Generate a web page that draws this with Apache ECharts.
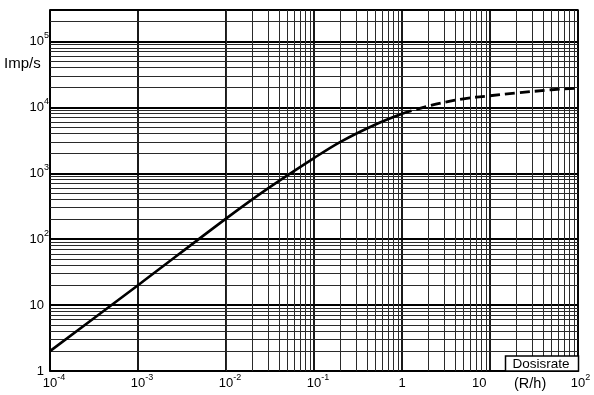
<!DOCTYPE html>
<html><head><meta charset="utf-8">
<script src="https://cdn.jsdelivr.net/npm/echarts@6/dist/echarts.min.js"></script>
<style>html,body{margin:0;padding:0;background:#fff}#c{width:594px;height:395px}</style>
</head><body><div id="c"></div>
<script>
// measured curve (solid part) and extrapolated (dashed part)
const solidX = [1e-4, 1e-3, 1e-2, 0.03, 0.1, 0.2, 0.5, 1];
const solidY = [2, 20, 205, 590, 1700, 3000, 5500, 8000];
const dashX = [1, 2, 5, 10, 20, 50, 100];
const dashY = [8000, 10500, 13500, 15000, 16500, 18500, 19600];
// tick labels
const xTickBase = ['10', '10', '10', '10', '1', '10', '10'];
const xTickExp = ['-4', '-3', '-2', '-1', '', '', '2'];
const yTickBase = ['1', '10', '10', '10', '10', '10'];
const yTickExp = ['', '', '2', '3', '4', '5'];
// grid
const xMin = 1e-4, xMax = 100, yMin = 1, yMax = 3e5;
const minorSteps = [2, 3, 4, 5, 6, 7, 8, 9];
const xDecades = [1e-4, 1e-3, 1e-2, 1e-1, 1, 10];
const yDecades = [1, 10, 100, 1e3, 1e4, 1e5];

const FONT = 'Liberation Sans';
const xMinor = [], yMinor = [];
xDecades.forEach(d => minorSteps.forEach(m => { const v = m * d; if (v < xMax) xMinor.push(v); }));
yDecades.forEach(d => minorSteps.forEach(m => { const v = m * d; if (v < yMax) yMinor.push(v); }));

const chart = echarts.init(document.getElementById('c'), null, {renderer: 'canvas'});
const supRich = {
  b1: {fontFamily: FONT, fontSize: 13, color: '#000', lineHeight: 20, padding: [0, 0, 0, 5]},
  b2: {fontFamily: FONT, fontSize: 13, color: '#000', lineHeight: 20, padding: [0, 0, 0, 8]},
  c: {fontFamily: FONT, fontSize: 13, color: '#000', lineHeight: 20},
  s: {fontFamily: FONT, fontSize: 9, color: '#000', lineHeight: 10, verticalAlign: 'top'}
};
const yRich = {
  b: {fontFamily: FONT, fontSize: 13, color: '#000', lineHeight: 20},
  c: {fontFamily: FONT, fontSize: 13, color: '#000', lineHeight: 20, padding: [0, 5, 0, 0]},
  s: {fontFamily: FONT, fontSize: 9, color: '#000', lineHeight: 10, verticalAlign: 'top'}
};

chart.setOption({
  animation: false,
  backgroundColor: '#fff',
  grid: {left: 50, right: 16, top: 10, bottom: 24, show: true, borderColor: '#000', borderWidth: 1.5},
  xAxis: {
    type: 'log', logBase: 10, min: xMin, max: xMax, interval: 1,
    axisLine: {show: true, lineStyle: {color: '#000', width: 1.5}},
    axisTick: {show: false},
    splitLine: {show: true, lineStyle: {color: '#000', width: 1.8}},
    axisLabel: {
      show: true, margin: 2, showMinLabel: true, showMaxLabel: true, hideOverlap: false,
      formatter: (v, i) => {
        const b = xTickBase[i], e = xTickExp[i];
        if (b === undefined) return '';
        if (!e) return b === '10' ? '{c|' + b + '}{c|      }' : '{c|' + b + '}';
        return '{' + (e.length > 1 ? 'b2' : 'b1') + '|' + b + '}{s|' + e + '}';
      },
      rich: supRich
    }
  },
  yAxis: {
    type: 'log', logBase: 10, min: yMin, max: yMax, interval: 1,
    axisLine: {show: true, lineStyle: {color: '#000', width: 1.5}},
    axisTick: {show: false},
    splitLine: {show: true, lineStyle: {color: '#000', width: 1.8}},
    axisLabel: {
      show: true, margin: 1, showMinLabel: true, showMaxLabel: true, hideOverlap: false,
      formatter: (v, i) => {
        const b = yTickBase[i], e = yTickExp[i];
        if (b === undefined) return '';
        if (!e) return '{c|' + b + '}';
        return '{b|' + b + '}{s|' + e + '}';
      },
      rich: yRich
    }
  },
  series: [
    {
      name: 'measured', type: 'line', smooth: 0.35, symbol: 'none', silent: true,
      data: solidX.map((x, i) => [x, solidY[i]]),
      lineStyle: {color: '#000', width: 2.6},
      z: 5,
      markLine: {
        silent: true, symbol: ['none', 'none'], animation: false,
        label: {show: false},
        lineStyle: {color: '#2a2a2a', width: 1, type: 'solid'},
        emphasis: {disabled: true},
        data: xMinor.map(v => ({xAxis: v})).concat(yMinor.map(v => ({yAxis: v}))),
        z: 1
      }
    },
    {
      name: 'extrapolated', type: 'line', smooth: 0.35, symbol: 'none', silent: true,
      data: dashX.map((x, i) => [x, dashY[i]]),
      lineStyle: {color: '#000', width: 2.8, type: [10, 5]},
      z: 5
    }
  ],
  graphic: [
    {type: 'text', left: 4, top: 56, style: {text: 'Imp/s', font: '15px "Liberation Sans"', fill: '#000'}},
    {type: 'text', left: 514, top: 376, style: {text: '(R/h)', font: '14.5px "Liberation Sans"', fill: '#000'}},
    {type: 'rect', shape: {x: 505.5, y: 356, width: 73, height: 15}, style: {fill: '#fff', stroke: '#000', lineWidth: 1.5}, z: 100},
    {type: 'text', x: 541, y: 364.5, style: {text: 'Dosisrate', font: '13.5px "Liberation Sans"', fill: '#000', align: 'center', verticalAlign: 'middle'}, z: 101}
  ]
});
</script>
</body></html>
